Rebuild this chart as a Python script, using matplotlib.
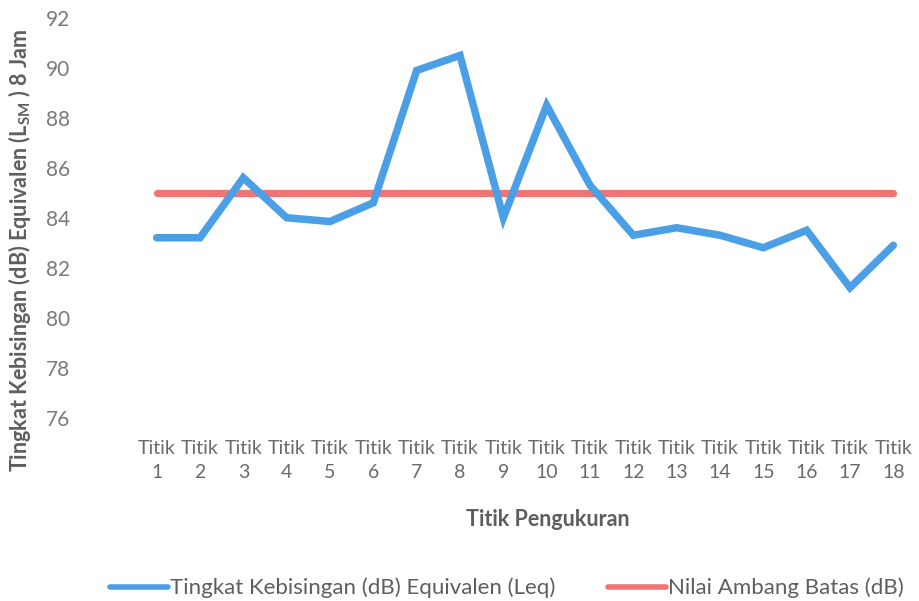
import matplotlib
matplotlib.use("Agg")
import matplotlib.pyplot as plt

categories = [f"Titik\n{i}" for i in range(1, 19)]
leq = [83.2, 83.2, 85.6, 84.0, 83.85, 84.6, 89.9, 90.5, 84.0, 88.5,
       85.3, 83.3, 83.6, 83.3, 82.8, 83.5, 81.2, 82.9]
nab = [85] * 18
yticks = [76, 78, 80, 82, 84, 86, 88, 90, 92]

plt.rcParams['font.family'] = ['Lato', 'DejaVu Sans']

W, H = 920, 601
fig = plt.figure(figsize=(W / 100, H / 100), dpi=100)
ax = fig.add_axes([135 / W, 1 - 430 / H, (915 - 135) / W, (430 - 18) / H])

x = list(range(len(categories)))
blue = '#4A9FE6'
red = '#F07474'
ax.plot(x, nab, color=red, lw=5.2, solid_capstyle='round', label='Nilai Ambang Batas (dB)', zorder=2)
ax.plot(x, leq, color=blue, lw=5.4, solid_joinstyle='miter', solid_capstyle='round',
        label='Tingkat Kebisingan (dB) Equivalen (Leq)', zorder=3)

ax.set_xlim(-0.5, len(categories) - 0.5)
ax.set_ylim(75.5, 92)
ax.set_yticks(yticks)
ax.set_yticklabels([str(v) for v in yticks], fontsize=15, color='#7a7a7a')
ax.set_xticks(x)
ax.set_xticklabels(categories, fontsize=14, color='#6a6a6a', linespacing=1.55)
ax.tick_params(axis='y', length=0, pad=47)
ax.tick_params(axis='x', length=0, pad=7)
for s in ax.spines.values():
    s.set_visible(False)

fig.text(548 / W, 1 - 520 / H, 'Titik Pengukuran', ha='center', va='center',
         fontsize=15.5, fontweight='bold', color='#5e5e5e')
fig.text(20 / W, 1 - 250 / H, r'Tingkat Kebisingan (dB) Equivalen (L$\mathregular{_{SM}}$ ) 8 Jam',
         rotation=90, ha='center', va='center', fontsize=15.5, fontweight='bold', color='#5e5e5e')

h, l = ax.get_legend_handles_labels()
leg = fig.legend([h[1], h[0]], [l[1], l[0]], loc='center', bbox_to_anchor=(507 / W, 1 - 588 / H),
                 ncol=2, frameon=False, fontsize=16, handlelength=2.6, handletextpad=0.1,
                 columnspacing=2.4, borderpad=0, borderaxespad=0)
for t in leg.get_texts():
    t.set_color('#5e5e5e')
for ln in leg.get_lines():
    ln.set_linewidth(4.0)

fig.savefig('out.png', dpi=100)
